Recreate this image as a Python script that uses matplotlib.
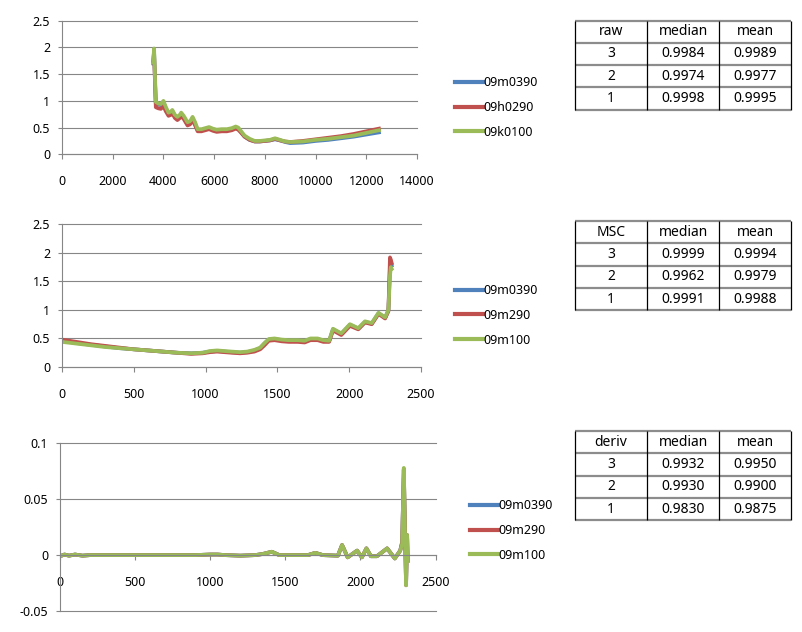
import matplotlib
matplotlib.use("Agg")
import matplotlib.pyplot as plt
from matplotlib.ticker import FixedLocator, FuncFormatter

plt.rcParams['font.family'] = ['Noto Sans', 'DejaVu Sans']
plt.rcParams['axes.unicode_minus'] = False

# ---------------- data ----------------
series_colors = ['#4F81BD', '#C0504D', '#9BBB59']

# chart 1 (raw spectra)
raw_labels = ['09m0390', '09h0290', '09k0100']
raw_x = [3600, 3630, 3660, 3700, 3800, 3900, 4000, 4100, 4200, 4300, 4350, 4450,
         4550, 4650, 4700, 4800, 4950, 5050, 5150, 5250, 5350, 5500, 5650, 5800,
         5950, 6100, 6300, 6500, 6700, 6850, 6950, 7050, 7200, 7400, 7600, 7800,
         8000, 8200, 8400, 8600, 8800, 9000, 9500, 10000, 10500, 11000, 11500,
         12000, 12500]
raw_blue = [1.70, 1.95, 1.50, 0.95, 0.93, 0.92, 0.97, 0.85, 0.76, 0.78, 0.81, 0.72,
            0.67, 0.71, 0.75, 0.69, 0.56, 0.58, 0.67, 0.57, 0.45, 0.45, 0.47, 0.49,
            0.46, 0.44, 0.45, 0.45, 0.47, 0.50, 0.48, 0.42, 0.33, 0.27, 0.24, 0.24,
            0.25, 0.26, 0.28, 0.26, 0.23, 0.21, 0.22, 0.25, 0.27, 0.30, 0.33, 0.37,
            0.41]
raw_red = [1.75, 1.90, 1.45, 0.88, 0.86, 0.85, 0.90, 0.80, 0.72, 0.74, 0.77, 0.68,
           0.64, 0.68, 0.72, 0.66, 0.54, 0.56, 0.64, 0.54, 0.43, 0.43, 0.45, 0.47,
           0.44, 0.42, 0.43, 0.43, 0.45, 0.48, 0.46, 0.41, 0.33, 0.27, 0.24, 0.24,
           0.25, 0.26, 0.29, 0.26, 0.24, 0.23, 0.25, 0.28, 0.31, 0.34, 0.38, 0.43,
           0.48]
raw_green = [1.72, 1.98, 1.55, 0.98, 0.95, 0.94, 1.00, 0.88, 0.78, 0.80, 0.83, 0.74,
             0.70, 0.74, 0.78, 0.72, 0.60, 0.62, 0.70, 0.60, 0.47, 0.47, 0.49, 0.51,
             0.48, 0.46, 0.47, 0.47, 0.49, 0.52, 0.50, 0.44, 0.35, 0.29, 0.25, 0.25,
             0.26, 0.27, 0.30, 0.27, 0.24, 0.23, 0.24, 0.27, 0.29, 0.32, 0.35, 0.40,
             0.45]

# chart 2 (MSC)
msc_labels = ['09m0390', '09m290', '09m100']
msc_x = [0, 100, 200, 300, 400, 500, 600, 700, 800, 900, 980, 1030, 1080, 1130,
         1180, 1240, 1290, 1340, 1380, 1410, 1440, 1480, 1530, 1580, 1640, 1690,
         1730, 1780, 1820, 1860, 1887, 1945, 2005, 2063, 2110, 2157, 2204, 2250,
         2273, 2284, 2290, 2296]
msc_blue = [0.46, 0.42, 0.39, 0.36, 0.33, 0.31, 0.29, 0.27, 0.25, 0.24, 0.25, 0.27,
            0.28, 0.27, 0.26, 0.25, 0.26, 0.29, 0.33, 0.41, 0.48, 0.49, 0.47, 0.46,
            0.46, 0.45, 0.49, 0.49, 0.46, 0.45, 0.66, 0.58, 0.74, 0.67, 0.79, 0.76,
            0.94, 0.86, 0.99, 1.75, 1.85, 1.78]
msc_red = [0.48, 0.44, 0.40, 0.37, 0.34, 0.31, 0.29, 0.27, 0.25, 0.23, 0.24, 0.26,
           0.27, 0.26, 0.25, 0.24, 0.25, 0.27, 0.31, 0.38, 0.46, 0.47, 0.45, 0.44,
           0.44, 0.43, 0.47, 0.47, 0.44, 0.44, 0.64, 0.56, 0.72, 0.66, 0.78, 0.75,
           0.93, 0.85, 0.98, 1.92, 1.88, 1.82]
msc_green = [0.44, 0.41, 0.38, 0.35, 0.33, 0.31, 0.29, 0.27, 0.25, 0.24, 0.25, 0.28,
             0.29, 0.28, 0.27, 0.26, 0.27, 0.30, 0.34, 0.42, 0.49, 0.50, 0.48, 0.47,
             0.47, 0.46, 0.50, 0.50, 0.47, 0.46, 0.67, 0.59, 0.75, 0.68, 0.80, 0.77,
             0.95, 0.87, 1.00, 1.60, 1.75, 1.72]

# chart 3 (derivative)
der_labels = ['09m0390', '09m290', '09m100']
der_x = [0, 30, 60, 100, 150, 200, 300, 400, 500, 600, 700, 800, 900, 1000, 1050,
         1100, 1200, 1300, 1350, 1410, 1460, 1550, 1650, 1700, 1750, 1850, 1878,
         1915, 1978, 2010, 2040, 2070, 2110, 2178, 2229, 2265, 2278, 2289, 2297,
         2304, 2311, 2315]
der_blue = [-0.001, 0.0005, -0.0005, 0.0005, -0.0005, 0.0, 0.0, 0.0, 0.0, 0.0, 0.0,
            0.0, 0.0, 0.0005, 0.0005, 0.0, -0.0005, 0.0, 0.001, 0.003, 0.0, 0.0, 0.0,
            0.002, 0.0, -0.0005, 0.009, -0.002, 0.004, -0.002, 0.006, -0.001, -0.001,
            0.006, -0.003, 0.004, 0.012, 0.076, 0.02, -0.026, 0.017, -0.005]
der_red = [-0.001, 0.0005, -0.0005, 0.0005, -0.0005, 0.0, 0.0, 0.0, 0.0, 0.0, 0.0,
           0.0, 0.0, 0.0005, 0.0005, 0.0, -0.0005, 0.0, 0.001, 0.003, 0.0, 0.0, 0.0,
           0.002, 0.0, -0.0005, 0.009, -0.002, 0.004, -0.002, 0.006, -0.001, -0.001,
           0.006, -0.003, 0.004, 0.011, 0.077, 0.02, -0.027, 0.018, -0.005]
der_green = [-0.001, 0.0005, -0.0005, 0.0005, -0.0005, 0.0, 0.0, 0.0, 0.0, 0.0, 0.0,
             0.0, 0.0, 0.0005, 0.0005, 0.0, -0.0005, 0.0, 0.001, 0.003, 0.0, 0.0, 0.0,
             0.002, 0.0, -0.0005, 0.009, -0.002, 0.004, -0.002, 0.006, -0.001, -0.001,
             0.006, -0.003, 0.004, 0.010, 0.078, 0.02, -0.027, 0.018, -0.005]

# tables
table_cols = ['median', 'mean']
table_rows = ['3', '2', '1']
raw_table = [['0.9984', '0.9989'], ['0.9974', '0.9977'], ['0.9998', '0.9995']]
msc_table = [['0.9999', '0.9994'], ['0.9962', '0.9979'], ['0.9991', '0.9988']]
der_table = [['0.9932', '0.9950'], ['0.9930', '0.9900'], ['0.9830', '0.9875']]

# ---------------- figure ----------------
W, H = 802, 632
fig = plt.figure(figsize=(W / 100, H / 100), dpi=100)
fig.patch.set_facecolor('white')

GRID = '#868686'
TXT = '#000000'


def rect(l, t, r, b):
    return [l / W, 1 - b / H, (r - l) / W, (b - t) / H]


def fmt(v, pos):
    s = ('%.2f' % v).rstrip('0').rstrip('.')
    return '0' if s in ('-0', '') else s


def style_axes(ax, xmax, xstep, ylims, ystep, zero_axis=False):
    ax.set_xlim(0, xmax)
    ax.set_ylim(*ylims)
    for s in ['top', 'right']:
        ax.spines[s].set_visible(False)
    ax.spines['left'].set_color(GRID)
    ax.spines['bottom'].set_color(GRID)
    ax.spines['left'].set_linewidth(0.8)
    ax.spines['bottom'].set_linewidth(0.8)
    if zero_axis:
        ax.spines['bottom'].set_position(('data', 0))
    xt = [i * xstep for i in range(int(round(xmax / xstep)) + 1)]
    n = int(round((ylims[1] - ylims[0]) / ystep))
    yt = [ylims[0] + i * ystep for i in range(n + 1)]
    ax.xaxis.set_major_locator(FixedLocator(xt))
    ax.yaxis.set_major_locator(FixedLocator(yt))
    ax.yaxis.set_major_formatter(FuncFormatter(fmt))
    ax.xaxis.set_major_formatter(FuncFormatter(lambda v, p: '%d' % v))
    ax.tick_params(axis='x', direction='out', length=3.6, width=0.8, color=GRID,
                   pad=11.5, labelsize=9, labelcolor=TXT)
    ax.tick_params(axis='y', direction='out', length=3, width=0.8, color=GRID,
                   pad=5.5, labelsize=9, labelcolor=TXT)
    ax.grid(axis='y', color=GRID, linewidth=0.8)
    ax.set_axisbelow(True)
    for gl in ax.yaxis.get_gridlines():
        gl.set_clip_on(False)


def add_legend(ax, labels, x, y):
    handles = ax.get_lines()
    leg = ax.legend(handles, labels, loc='upper left', bbox_to_anchor=(x / W, 1 - y / H),
                    bbox_transform=fig.transFigure, frameon=False, fontsize=9,
                    handlelength=2.2, handletextpad=0.1, labelspacing=0.95,
                    borderpad=0, borderaxespad=0)
    for line in leg.get_lines():
        line.set_linewidth(3)
    return leg


lw = 2.7

ax1 = fig.add_axes(rect(62, 20.7, 417, 154.3))
style_axes(ax1, 14000, 2000, (0, 2.5), 0.5)
for ys, c in zip([raw_blue, raw_red, raw_green], series_colors):
    ax1.plot(raw_x, ys, color=c, lw=lw, solid_joinstyle='round')
add_legend(ax1, raw_labels, 455, 76)

ax2 = fig.add_axes(rect(62, 224.3, 421, 367))
style_axes(ax2, 2500, 500, (0, 2.5), 0.5)
for ys, c in zip([msc_blue, msc_red, msc_green], series_colors):
    ax2.plot(msc_x, ys, color=c, lw=lw, solid_joinstyle='round')
add_legend(ax2, msc_labels, 455, 284)

ax3 = fig.add_axes(rect(60, 443.3, 435.5, 611))
style_axes(ax3, 2500, 500, (-0.05, 0.1), 0.05, zero_axis=True)
for ys, c in zip([der_blue, der_red, der_green], series_colors):
    ax3.plot(der_x, ys, color=c, lw=lw, solid_joinstyle='round')
add_legend(ax3, der_labels, 470, 499)

# ---------------- tables ----------------
ov = fig.add_axes([0, 0, 1, 1])
ov.set_xlim(0, W)
ov.set_ylim(H, 0)
ov.axis('off')

col_edges = [575, 647, 719, 791]
col_centers = [611, 683, 755]


def draw_table(top, corner, data, row_h=22.3):
    ys = [top + i * row_h for i in range(5)]
    for y in ys:
        ov.plot([col_edges[0], col_edges[-1]], [y, y], color='#8c8c8c', lw=1.6,
                solid_capstyle='butt')
    for x in col_edges:
        ov.plot([x, x], [ys[0], ys[-1]], color='#000000', lw=0.9,
                solid_capstyle='butt')
    header = [corner] + table_cols
    for cx, t in zip(col_centers, header):
        ov.text(cx, (ys[0] + ys[1]) / 2, t, ha='center', va='center', fontsize=10,
                color=TXT)
    for r, (rl, vals) in enumerate(zip(table_rows, data)):
        yc = (ys[r + 1] + ys[r + 2]) / 2
        for cx, t in zip(col_centers, [rl] + vals):
            ov.text(cx, yc, t, ha='center', va='center', fontsize=10, color=TXT)


draw_table(20.5, 'raw', raw_table)
draw_table(221, 'MSC', msc_table)
draw_table(431, 'deriv', der_table)

fig.savefig('out.png', dpi=100, facecolor='white')
